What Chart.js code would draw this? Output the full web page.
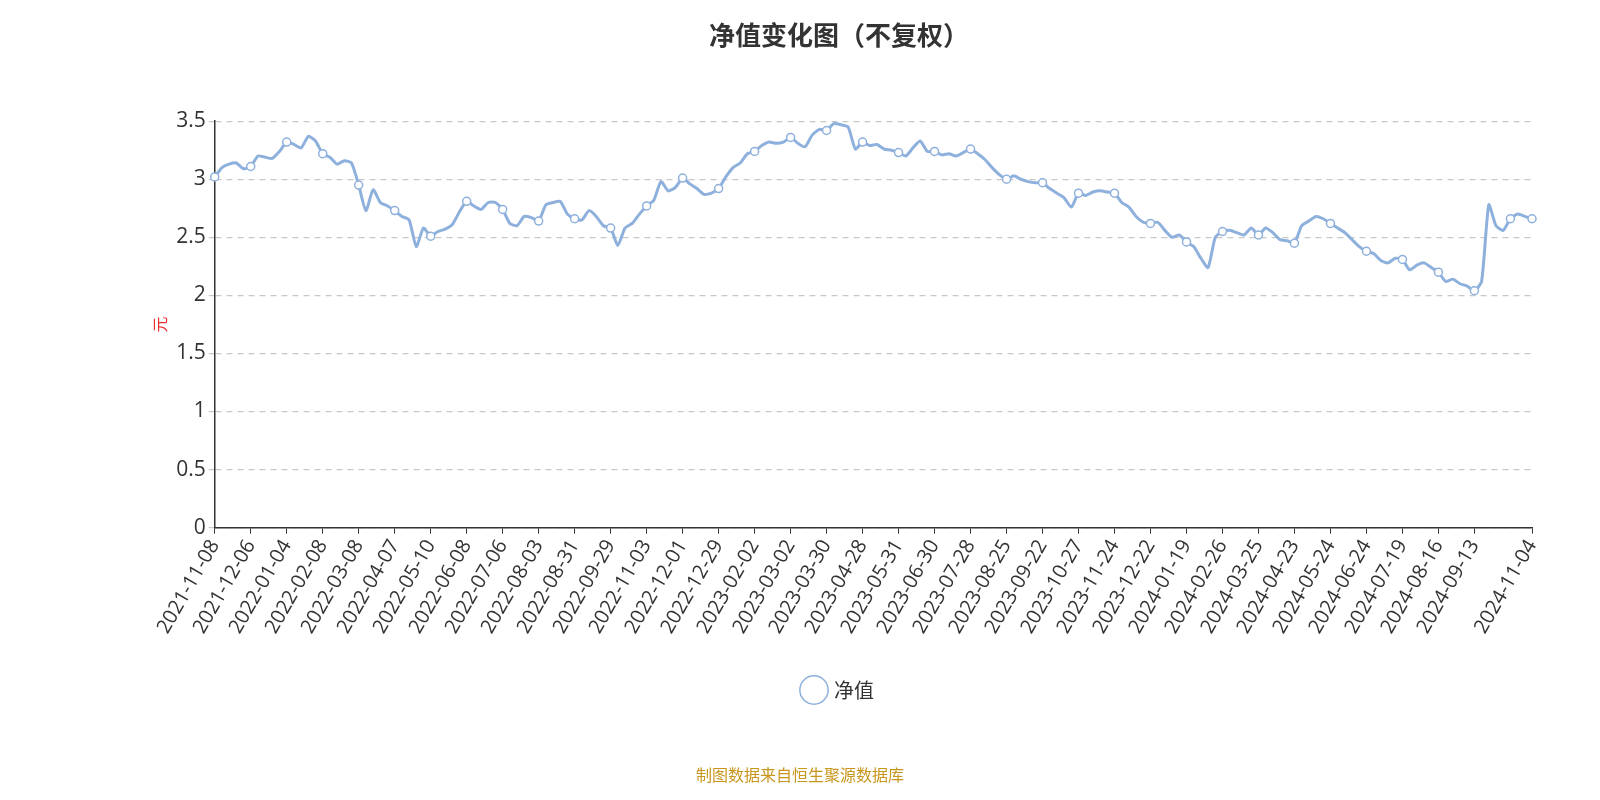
<!DOCTYPE html>
<html>
<head>
<meta charset="utf-8">
<script src="https://cdn.jsdelivr.net/npm/chart.js@4"></script>
<style>
  body { margin: 0; background: #fff; font-family: "Noto Sans CJK SC", "Noto Sans", sans-serif; }
  #wrap { position: relative; width: 1600px; height: 800px; }
  #src { position: absolute; left: 0; width: 1600px; top: 762px; text-align: center; color: #c8961e; font-size: 16px; }
</style>
</head>
<body>
<div id="wrap">
  <canvas id="navChart" width="1600" height="800"></canvas>
  <div id="src">制图数据来自恒生聚源数据库</div>
</div>
<script>
const tickDates = ['2021-11-08','2021-12-06','2022-01-04','2022-02-08','2022-03-08','2022-04-07','2022-05-10','2022-06-08','2022-07-06','2022-08-03','2022-08-31','2022-09-29','2022-11-03','2022-12-01','2022-12-29','2023-02-02','2023-03-02','2023-03-30','2023-04-28','2023-05-31','2023-06-30','2023-07-28','2023-08-25','2023-09-22','2023-10-27','2023-11-24','2023-12-22','2024-01-19','2024-02-26','2024-03-25','2024-04-23','2024-05-24','2024-06-24','2024-07-19','2024-08-16','2024-09-13'];
const lastDate = '2024-11-04';

const navValues = [
  3.02, 3.10, 3.13, 3.14, 3.09,
  3.11, 3.20, 3.19, 3.18, 3.24,
  3.32, 3.30, 3.27, 3.37, 3.33,
  3.22, 3.19, 3.13, 3.16, 3.14,
  2.95, 2.73, 2.91, 2.80, 2.77,
  2.73, 2.68, 2.65, 2.42, 2.58,
  2.51, 2.55, 2.57, 2.61, 2.72,
  2.81, 2.77, 2.74, 2.80, 2.80,
  2.74, 2.62, 2.60, 2.68, 2.67,
  2.64, 2.78, 2.80, 2.81, 2.70,
  2.66, 2.65, 2.73, 2.68, 2.60,
  2.58, 2.43, 2.58, 2.62, 2.70,
  2.77, 2.82, 2.98, 2.90, 2.93,
  3.01, 2.96, 2.92, 2.87, 2.88,
  2.92, 3.02, 3.10, 3.14, 3.22,
  3.24, 3.29, 3.32, 3.31, 3.32,
  3.36, 3.31, 3.28, 3.38, 3.43,
  3.42, 3.48, 3.47, 3.45, 3.26,
  3.32, 3.29, 3.30, 3.26, 3.25,
  3.23, 3.20, 3.27, 3.33, 3.24,
  3.24, 3.21, 3.22, 3.20, 3.23,
  3.26, 3.22, 3.17, 3.10, 3.04,
  3.00, 3.03, 3.00, 2.98, 2.97,
  2.97, 2.92, 2.88, 2.84, 2.76,
  2.88, 2.86, 2.89, 2.90, 2.89,
  2.88, 2.80, 2.76, 2.68, 2.63,
  2.62, 2.63, 2.56, 2.50, 2.52,
  2.46, 2.42, 2.32, 2.24, 2.50,
  2.55, 2.56, 2.54, 2.52, 2.58,
  2.52, 2.58, 2.54, 2.48, 2.47,
  2.45, 2.60, 2.64, 2.68, 2.66,
  2.62, 2.58, 2.54, 2.48, 2.42,
  2.38, 2.36, 2.30, 2.28, 2.32,
  2.31, 2.22, 2.26, 2.28, 2.24,
  2.20, 2.12, 2.14, 2.10, 2.08,
  2.04, 2.12, 2.78, 2.60, 2.56,
  2.66, 2.70, 2.68, 2.66
];
const yTicks = [0, 0.5, 1, 1.5, 2, 2.5, 3, 3.5];

// one label per 5 points, plus the final point
const labels = navValues.map((v, i) => {
  if (i === navValues.length - 1) return lastDate;
  return i % 5 === 0 ? (tickDates[i / 5] || '') : '';
});
const lineColor = '#8eb0dc';

new Chart(document.getElementById('navChart'), {
  type: 'line',
  data: {
    labels: labels,
    datasets: [{
      label: '净值',
      data: navValues,
      borderColor: lineColor,
      backgroundColor: '#fff',
      borderWidth: 3,
      tension: 0.2,
      pointStyle: 'circle',
      pointBorderWidth: 1.5,
      pointRadius: ctx => (ctx.dataIndex % 5 === 0 || ctx.dataIndex === navValues.length - 1) ? 4 : 0,
      pointHoverRadius: 4
    }]
  },
  options: {
    responsive: false,
    animation: false,
    layout: { padding: { left: 146, right: 68, top: 20, bottom: 90 } },
    plugins: {
      title: { display: true, text: '净值变化图（不复权）', color: '#333', font: { size: 26, weight: 'bold', family: 'Noto Sans CJK SC' }, padding: { top: 0, bottom: 70 } },
      legend: {
        position: 'bottom',
        labels: { usePointStyle: true, pointStyle: 'circle', color: '#333', font: { size: 20, family: 'Noto Sans CJK SC' }, padding: 40, boxWidth: 22 }
      },
      tooltip: { enabled: false }
    },
    scales: {
      x: {
        grid: { display: true, drawOnChartArea: false, color: ctx => (ctx.tick && ctx.tick.label) ? '#333' : 'rgba(0,0,0,0)', tickLength: 6 },
        border: { color: '#333', width: 1.5 },
        ticks: {
          autoSkip: false, maxRotation: 60, minRotation: 60, color: '#333',
          font: { size: 20, family: 'Open Sans' }, padding: 2,
          callback: function (v, i) { return labels[i]; }
        }
      },
      y: {
        min: 0, max: 3.5,
        afterBuildTicks: axis => { axis.ticks = yTicks.map(v => ({ value: v })); },
        title: { display: true, text: '元', color: '#e83030', font: { size: 16, family: 'Noto Sans CJK SC' } },
        grid: { color: '#c8c8c8', lineWidth: 1.2, drawTicks: true, tickLength: 6 },
        border: { color: '#333', width: 1.5, dash: [6, 5] },
        ticks: { color: '#333', font: { size: 21, family: 'Open Sans' }, callback: v => String(v) }
      }
    }
  }
});
</script>
</body>
</html>
